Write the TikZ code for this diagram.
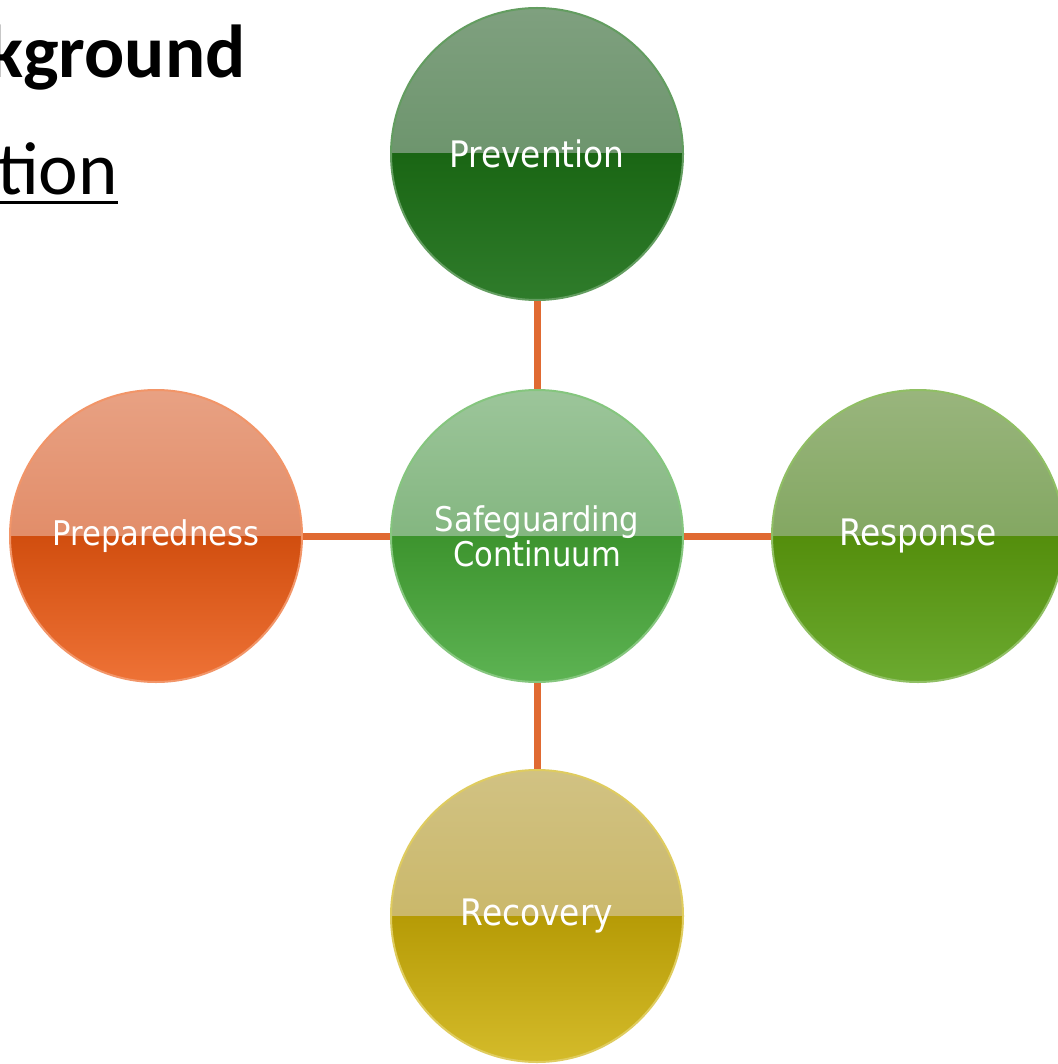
\documentclass[tikz,border=0pt]{standalone}
\usepackage{fontspec}
\setmainfont{Carlito}
\newfontfamily\ballfont{DejaVu Sans Condensed}
\usetikzlibrary{positioning}

\definecolor{linkorange}{HTML}{E06A32}
\definecolor{prevtop}{HTML}{7FA07F}
\definecolor{prevmid}{HTML}{5C8A5C}
\definecolor{prevlow}{HTML}{1A6614}
\definecolor{prevbot}{HTML}{2F7C2B}
\definecolor{safetop}{HTML}{9CC59A}
\definecolor{safemid}{HTML}{6CA867}
\definecolor{safelow}{HTML}{3D942E}
\definecolor{safebot}{HTML}{5DB353}
\definecolor{preptop}{HTML}{E8A183}
\definecolor{prepmid}{HTML}{DC7A50}
\definecolor{preplow}{HTML}{D14E0F}
\definecolor{prepbot}{HTML}{EE7236}
\definecolor{resptop}{HTML}{99B57D}
\definecolor{respmid}{HTML}{6E9A47}
\definecolor{resplow}{HTML}{548E0C}
\definecolor{respbot}{HTML}{6BAA30}
\definecolor{recotop}{HTML}{D1C283}
\definecolor{recomid}{HTML}{C4AE52}
\definecolor{recolow}{HTML}{B69B06}
\definecolor{recobot}{HTML}{D4BB2A}

\tikzset{
  ball/.style n args={4}{circle, minimum size=292pt, inner sep=0pt,
    text=white, align=center, font=\ballfont\fontsize{36.5}{37}\selectfont,
    draw=#4!75!white, line width=2pt,
    path picture={
      \fill[top color=#1, bottom color=#2] (path picture bounding box.north west) rectangle (path picture bounding box.east);
      \fill[top color=#3, bottom color=#4] (path picture bounding box.west) rectangle (path picture bounding box.south east);
    }},
  link/.style={draw=linkorange, line width=7pt},
  heading/.style={inner sep=0pt, anchor=base west, font=\fontsize{75}{80}\selectfont}
}

\begin{document}
\begin{tikzpicture}[x=1pt, y=-1pt]
  \fill[white] (0,0) rectangle (1057,1064);
  \useasboundingbox (0,0) rectangle (1057,1064);

  % slide heading, cut off at the left
  \node[heading, font=\fontsize{75}{80}\selectfont\bfseries] (bgtitle) at (-13,78) {kground};
  \node[heading] (subtitle) at (-3,195) {tion};
  \draw[line width=3pt] ([yshift=-8pt]subtitle.base west) -- ([yshift=-8pt]subtitle.base east);

  % continuum
  \node[ball={safetop}{safemid}{safelow}{safebot}, font=\ballfont\fontsize{34}{35}\selectfont] (safe) at (537,536) {Safeguarding\\Continuum};
  \node[ball={prevtop}{prevmid}{prevlow}{prevbot}] (prev) at (537,154) {Prevention};
  \node[ball={preptop}{prepmid}{preplow}{prepbot}, font=\ballfont\fontsize{34}{35}\selectfont] (prep) at (156,536) {Preparedness};
  \node[ball={resptop}{respmid}{resplow}{respbot}] (resp) at (918,536) {Response};
  \node[ball={recotop}{recomid}{recolow}{recobot}] (reco) at (537,916) {Recovery};

  \draw[link] (prev) -- (safe);
  \draw[link] (prep) -- (safe);
  \draw[link] (resp) -- (safe);
  \draw[link] (reco) -- (safe);
\end{tikzpicture}
\end{document}
